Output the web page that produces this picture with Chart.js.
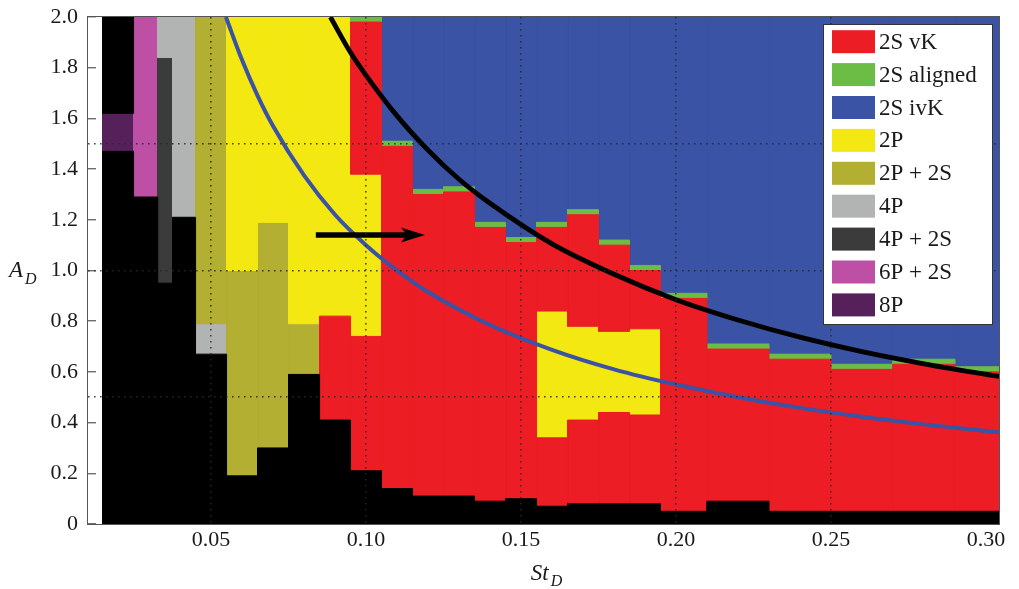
<!DOCTYPE html>
<html>
<head>
<meta charset="utf-8">
<script src="https://cdn.jsdelivr.net/npm/chart.js@4.4.1/dist/chart.umd.min.js"></script>
<style>
  html, body { margin: 0; padding: 0; background: #fff; }
  #wrap { width: 1019px; height: 589px; position: relative; }
</style>
</head>
<body>
<div id="wrap"><canvas id="regimeMap"></canvas></div>
<script>
// axis ticks and the dotted reference lines
const stTicks = [0.05, 0.10, 0.15, 0.20, 0.25, 0.30];
const stTickLabels = ['0.05', '0.10', '0.15', '0.20', '0.25', '0.30'];
const stGrid = [0.05, 0.10, 0.15, 0.20, 0.25];
const adTicks = [0, 0.2, 0.4, 0.6, 0.8, 1.0, 1.2, 1.4, 1.6, 1.8, 2.0];
const adTickLabels = ['0', '0.2', '0.4', '0.6', '0.8', '1.0', '1.2', '1.4', '1.6', '1.8', '2.0'];
const adGrid = [0.5, 1.0, 1.5];

// regime cells: [St_D from, St_D to, A_D from, A_D to]
const cellsNone = [
  [0.015, 0.025, 0, 1.47], [0.015, 0.025, 1.62, 2.0],
  [0.025, 0.0328, 0, 1.29], [0.0328, 0.0376, 0, 0.95], [0.0376, 0.045, 0, 1.21],
  [0.045, 0.055, 0, 0.67], [0.055, 0.065, 0, 0.19], [0.065, 0.075, 0, 0.30],
  [0.075, 0.085, 0, 0.59], [0.085, 0.095, 0, 0.41], [0.095, 0.105, 0, 0.21],
  [0.105, 0.115, 0, 0.14], [0.115, 0.125, 0, 0.11], [0.125, 0.135, 0, 0.11],
  [0.135, 0.145, 0, 0.09], [0.145, 0.155, 0, 0.10], [0.155, 0.165, 0, 0.07],
  [0.165, 0.175, 0, 0.08], [0.175, 0.185, 0, 0.08], [0.185, 0.195, 0, 0.08],
  [0.195, 0.21, 0, 0.05], [0.21, 0.23, 0, 0.09], [0.23, 0.31, 0, 0.05]
];
const cells2SvK = [
  [0.085, 0.095, 0.41, 0.82],
  [0.095, 0.105, 0.21, 0.74], [0.095, 0.105, 1.38, 1.98],
  [0.105, 0.115, 0.14, 1.49], [0.115, 0.125, 0.11, 1.30], [0.125, 0.135, 0.11, 1.31],
  [0.135, 0.145, 0.09, 1.17], [0.145, 0.155, 0.10, 1.11],
  [0.155, 0.165, 0.07, 0.34], [0.155, 0.165, 0.84, 1.17],
  [0.165, 0.175, 0.08, 0.41], [0.165, 0.175, 0.78, 1.22],
  [0.175, 0.185, 0.08, 0.44], [0.175, 0.185, 0.76, 1.10],
  [0.185, 0.195, 0.08, 0.43], [0.185, 0.195, 0.77, 1.00],
  [0.195, 0.21, 0.05, 0.89], [0.21, 0.23, 0.09, 0.69], [0.23, 0.25, 0.05, 0.65],
  [0.25, 0.27, 0.05, 0.61], [0.27, 0.29, 0.05, 0.63], [0.29, 0.31, 0.05, 0.60]
];
const cells2SAligned = [
  [0.095, 0.105, 1.98, 2.0], [0.105, 0.115, 1.49, 1.51], [0.115, 0.125, 1.30, 1.32],
  [0.125, 0.135, 1.31, 1.33], [0.135, 0.145, 1.17, 1.19], [0.145, 0.155, 1.11, 1.13],
  [0.155, 0.165, 1.17, 1.19], [0.165, 0.175, 1.22, 1.24], [0.175, 0.185, 1.10, 1.12],
  [0.185, 0.195, 1.00, 1.02], [0.195, 0.21, 0.89, 0.91], [0.21, 0.23, 0.69, 0.71],
  [0.23, 0.25, 0.65, 0.67], [0.25, 0.27, 0.61, 0.63], [0.27, 0.29, 0.63, 0.65],
  [0.29, 0.31, 0.60, 0.62]
];
const cells2SivK = [
  [0.105, 0.115, 1.51, 2.0], [0.115, 0.125, 1.32, 2.0], [0.125, 0.135, 1.33, 2.0],
  [0.135, 0.145, 1.19, 2.0], [0.145, 0.155, 1.13, 2.0], [0.155, 0.165, 1.19, 2.0],
  [0.165, 0.175, 1.24, 2.0], [0.175, 0.185, 1.12, 2.0], [0.185, 0.195, 1.02, 2.0],
  [0.195, 0.21, 0.91, 2.0], [0.21, 0.23, 0.71, 2.0], [0.23, 0.25, 0.67, 2.0],
  [0.25, 0.27, 0.63, 2.0], [0.27, 0.29, 0.65, 2.0], [0.29, 0.31, 0.62, 2.0]
];
const cells2P = [
  [0.055, 0.065, 1.00, 2.0], [0.065, 0.075, 1.19, 2.0], [0.075, 0.085, 0.79, 2.0],
  [0.085, 0.095, 0.82, 2.0], [0.095, 0.105, 0.74, 1.38],
  [0.155, 0.165, 0.34, 0.84], [0.165, 0.175, 0.41, 0.78],
  [0.175, 0.185, 0.44, 0.76], [0.185, 0.195, 0.43, 0.77]
];
const cells2P2S = [
  [0.045, 0.055, 0.79, 2.0], [0.055, 0.065, 0.19, 1.00],
  [0.065, 0.075, 0.30, 1.19], [0.075, 0.085, 0.59, 0.79]
];
const cells4P = [[0.0328, 0.0376, 1.84, 2.0], [0.0376, 0.045, 1.21, 2.0], [0.045, 0.055, 0.67, 0.79]];
const cells4P2S = [[0.0328, 0.0376, 0.95, 1.84]];
const cells6P2S = [[0.025, 0.0328, 1.29, 2.0]];
const cells8P = [[0.015, 0.025, 1.47, 1.62]];

// the two boundary curves
const blackCurveSt = [0.0885, 0.095, 0.10, 0.11, 0.12, 0.13, 0.14, 0.16, 0.18, 0.20, 0.22, 0.24, 0.26, 0.28, 0.3042];
const blackCurveAd = [2.00, 1.86, 1.77, 1.61, 1.475, 1.36, 1.265, 1.105, 0.985, 0.885, 0.805, 0.737, 0.68, 0.632, 0.582];
const blueCurveSt = [0.0548, 0.06, 0.065, 0.07, 0.08, 0.09, 0.10, 0.11, 0.12, 0.14, 0.16, 0.18, 0.20, 0.22, 0.24, 0.26, 0.28, 0.3042];
const blueCurveAd = [2.00, 1.83, 1.69, 1.57, 1.375, 1.22, 1.10, 1.00, 0.915, 0.785, 0.687, 0.61, 0.55, 0.50, 0.458, 0.423, 0.393, 0.362];

// arrow: tail and tip
const arrowSt = [0.0838, 0.1190];
const arrowAd = [1.14, 1.14];

const regimes = [
  { label: '2S vK', color: '#EC1D24', cells: cells2SvK },
  { label: '2S aligned', color: '#6CBD45', cells: cells2SAligned },
  { label: '2S ivK', color: '#3A53A4', cells: cells2SivK },
  { label: '2P', color: '#F4E812', cells: cells2P },
  { label: '2P + 2S', color: '#B2AF33', cells: cells2P2S },
  { label: '4P', color: '#B2B4B4', cells: cells4P },
  { label: '4P + 2S', color: '#3B3B3B', cells: cells4P2S },
  { label: '6P + 2S', color: '#BD4FA5', cells: cells6P2S },
  { label: '8P', color: '#56215A', cells: cells8P }
];

const SERIF = '"Liberation Serif", "Times New Roman", serif';
const TEXT = '#1a1a1a';
const DOTS = 'rgba(40,40,40,0.85)';

function cellDataset(cell, color) {
  const [s0, s1, a0, a1] = cell;
  return {
    data: [{ x: s0, y: a0 }, { x: s1, y: a0 }, { x: s1, y: a1 }, { x: s0, y: a1 }, { x: s0, y: a0 }],
    backgroundColor: color,
    borderColor: color,
    borderWidth: 1,
    fill: 'shape',
    pointRadius: 0,
    tension: 0,
    order: 5
  };
}

function curveDataset(st, ad, color, width) {
  return {
    data: st.map((s, i) => ({ x: s, y: ad[i] })),
    borderColor: color,
    borderWidth: width,
    fill: false,
    pointRadius: 0,
    cubicInterpolationMode: 'monotone',
    order: 0
  };
}

const datasets = [];
cellsNone.forEach(c => datasets.push(cellDataset(c, '#000000')));
regimes.forEach(r => r.cells.forEach(c => datasets.push(cellDataset(c, r.color))));
datasets.push(curveDataset(blueCurveSt, blueCurveAd, '#3A53A4', 4));
datasets.push(curveDataset(blackCurveSt, blackCurveAd, '#000000', 4.8));

const near = (list, v) => list.findIndex(t => Math.abs(t - v) < 1e-9);

// arrow drawn in data coordinates
const arrowPlugin = {
  id: 'shiftArrow',
  afterDatasetsDraw(chart) {
    const { ctx, scales: { x, y } } = chart;
    const x0 = x.getPixelForValue(arrowSt[0]);
    const x1 = x.getPixelForValue(arrowSt[1]);
    const y0 = y.getPixelForValue(arrowAd[0]);
    const y1 = y.getPixelForValue(arrowAd[1]);
    ctx.save();
    ctx.strokeStyle = '#000';
    ctx.lineWidth = 5.5;
    ctx.beginPath();
    ctx.moveTo(x0, y0);
    ctx.lineTo(x1 - 16, y1);
    ctx.stroke();
    ctx.fillStyle = '#000';
    ctx.beginPath();
    ctx.moveTo(x1, y1);
    ctx.lineTo(x1 - 24, y1 - 7.5);
    ctx.lineTo(x1 - 18, y1);
    ctx.lineTo(x1 - 24, y1 + 7.5);
    ctx.closePath();
    ctx.fill();
    ctx.restore();
  }
};

// frame, legend box and axis titles with subscripts
const decorPlugin = {
  id: 'decor',
  afterDraw(chart) {
    const { ctx, chartArea: a } = chart;
    ctx.save();
    ctx.strokeStyle = '#555';
    ctx.lineWidth = 1;
    ctx.strokeRect(a.left - 0.5, a.top - 0.5, a.right - a.left + 1, a.bottom - a.top + 1);

    // legend
    const lx = a.right - 176, ly = a.top + 7, lw = 170, lh = 301;
    ctx.fillStyle = '#fff';
    ctx.fillRect(lx, ly, lw, lh);
    ctx.strokeStyle = '#333';
    ctx.strokeRect(lx + 0.5, ly + 0.5, lw - 1, lh - 1);
    ctx.font = '23px ' + SERIF;
    ctx.textBaseline = 'middle';
    ctx.textAlign = 'left';
    regimes.forEach((r, i) => {
      const cy = ly + 17.7 + i * 32.9;
      ctx.fillStyle = r.color;
      ctx.fillRect(lx + 9, cy - 11.5, 43, 23);
      ctx.fillStyle = TEXT;
      ctx.fillText(r.label, lx + 56, cy + 1);
    });

    // axis titles
    ctx.fillStyle = TEXT;
    ctx.textBaseline = 'alphabetic';
    const big = 'italic 23px ' + SERIF, small = 'italic 16px ' + SERIF;
    const midY = (a.top + a.bottom) / 2;
    ctx.font = big;
    ctx.fillText('A', 9, midY + 6);
    const aw = ctx.measureText('A').width;
    ctx.font = small;
    ctx.fillText('D', 9 + aw + 2, midY + 13);

    ctx.font = big;
    const sw = ctx.measureText('St').width;
    ctx.font = small;
    const dw = ctx.measureText('D').width;
    const sx = (a.left + a.right) / 2 - (sw + dw + 2) / 2 + 3;
    ctx.font = big;
    ctx.fillText('St', sx, 580);
    ctx.font = small;
    ctx.fillText('D', sx + sw + 2, 586);
    ctx.restore();
  }
};

new Chart(document.getElementById('regimeMap'), {
  type: 'line',
  data: { datasets },
  plugins: [arrowPlugin, decorPlugin],
  options: {
    responsive: true,
    maintainAspectRatio: false,
    devicePixelRatio: 1,
    animation: false,
    events: [],
    layout: { padding: { top: 17, right: 20, left: 0, bottom: 0 } },
    plugins: {
      legend: { display: false },
      tooltip: { enabled: false }
    },
    scales: {
      x: {
        type: 'linear',
        min: 0.0103,
        max: 0.3042,
        bounds: 'data',
        afterBuildTicks: s => { s.ticks = stTicks.map(v => ({ value: v })); },
        afterFit: s => { s.height = 65; s.paddingLeft = 0; s.paddingRight = 0; },
        border: { display: false, dash: [1.6, 4.4] },
        grid: {
          z: 1,
          drawTicks: false,
          lineWidth: 1.6,
          color: c => (c.tick && near(stGrid, c.tick.value) >= 0) ? DOTS : 'transparent'
        },
        ticks: {
          autoSkip: false,
          maxRotation: 0,
          padding: 3,
          color: TEXT,
          font: { family: SERIF, size: 22 },
          callback: v => { const i = near(stTicks, v); return i < 0 ? '' : stTickLabels[i]; }
        }
      },
      y: {
        type: 'linear',
        min: 0,
        max: 2,
        bounds: 'data',
        afterBuildTicks: s => {
          const vals = adTicks.concat(adGrid.filter(v => near(adTicks, v) < 0)).sort((p, q) => p - q);
          s.ticks = vals.map(v => ({ value: v }));
        },
        afterFit: s => { s.width = 88; s.paddingTop = 0; s.paddingBottom = 0; },
        border: { display: false, dash: [1.6, 4.4] },
        grid: {
          z: 1,
          drawTicks: true,
          tickLength: -8,
          tickWidth: 1,
          lineWidth: 1.6,
          tickColor: c => (c.tick && near(adTicks, c.tick.value) >= 0) ? '#333' : 'transparent',
          color: c => (c.tick && near(adGrid, c.tick.value) >= 0) ? DOTS : 'transparent'
        },
        ticks: {
          autoSkip: false,
          padding: 18,
          color: TEXT,
          font: { family: SERIF, size: 22 },
          callback: v => { const i = near(adTicks, v); return i < 0 ? '' : adTickLabels[i]; }
        }
      }
    }
  }
});
</script>
</body>
</html>
